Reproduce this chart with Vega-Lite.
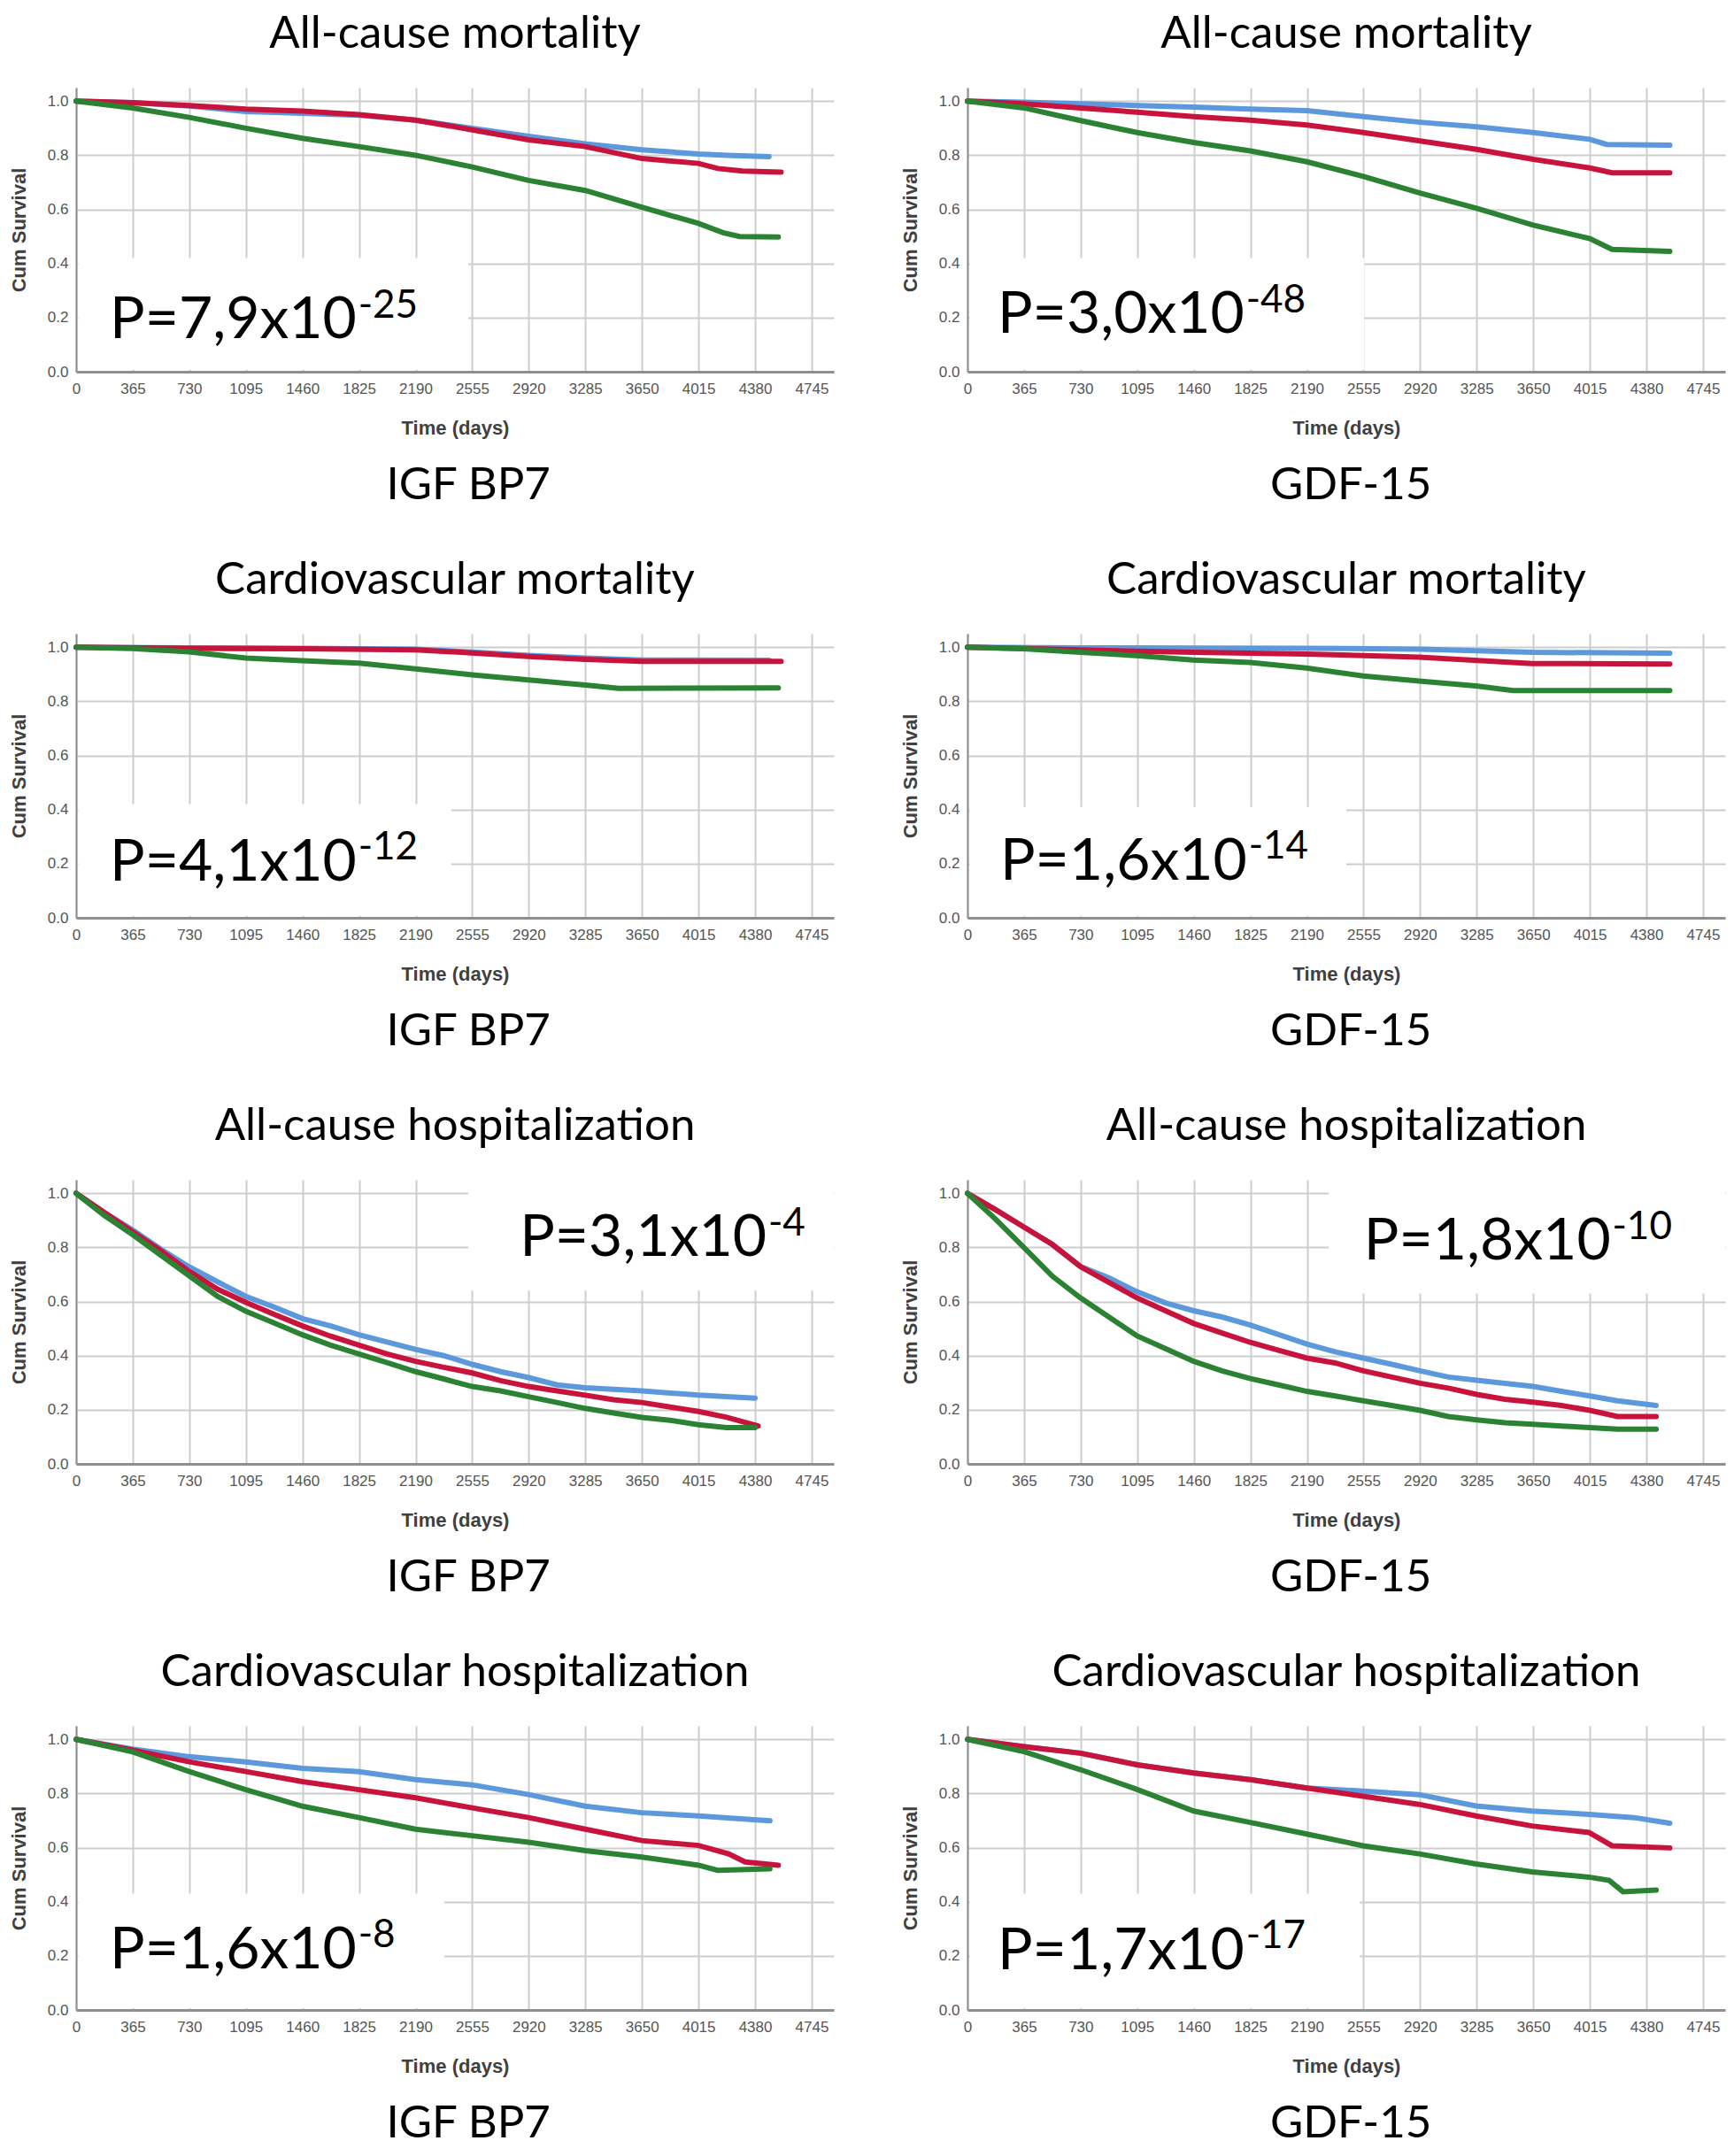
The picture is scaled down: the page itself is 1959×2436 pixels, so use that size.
{
"$schema": "https://vega.github.io/schema/vega-lite/v6.json",
"background": "white",
"padding": {"left": 10, "top": 13, "right": 5, "bottom": 2},
"config": {
 "view": {"stroke": null},
 "title": {"font": "Lato", "fontSize": 51, "fontWeight": "normal", "color": "#000000", "offset": 34, "anchor": "middle"},
 "axis": {"grid": true, "gridColor": "#cdcdcd", "gridWidth": 2, "domainColor": "#8f8f8f", "domainWidth": 2, "ticks": false, "labelFont": "Liberation Sans", "labelFontSize": 17, "labelColor": "#555555", "labelFlush": false, "labelOverlap": false, "labelBound": false, "titleFont": "Liberation Sans", "titleFontSize": 22, "titleFontWeight": "bold", "titleColor": "#404040"},
 "axisX": {"labelPadding": 11, "titlePadding": 26, "domainWidth": 3},
 "axisY": {"labelPadding": 9, "titlePadding": 20},
 "text": {"font": "Lato", "color": "#000000", "align": "left", "baseline": "alphabetic"},
 "line": {"strokeWidth": 6, "strokeCap": "round"}
},
"datasets": {
"km": [
{"p":"a1","g":"blue","t":0,"s":1},{"p":"a1","g":"blue","t":365,"s":0.994},{"p":"a1","g":"blue","t":730,"s":0.982},{"p":"a1","g":"blue","t":1095,"s":0.962},{"p":"a1","g":"blue","t":1460,"s":0.955},{"p":"a1","g":"blue","t":1825,"s":0.948},{"p":"a1","g":"blue","t":2190,"s":0.93},{"p":"a1","g":"blue","t":2555,"s":0.9},{"p":"a1","g":"blue","t":2920,"s":0.87},{"p":"a1","g":"blue","t":3285,"s":0.842},{"p":"a1","g":"blue","t":3650,"s":0.82},{"p":"a1","g":"blue","t":4015,"s":0.805},{"p":"a1","g":"blue","t":4200,"s":0.8},{"p":"a1","g":"blue","t":4470,"s":0.795},
{"p":"a1","g":"red","t":0,"s":1},{"p":"a1","g":"red","t":365,"s":0.994},{"p":"a1","g":"red","t":730,"s":0.984},{"p":"a1","g":"red","t":1095,"s":0.971},{"p":"a1","g":"red","t":1460,"s":0.963},{"p":"a1","g":"red","t":1825,"s":0.95},{"p":"a1","g":"red","t":2190,"s":0.93},{"p":"a1","g":"red","t":2555,"s":0.894},{"p":"a1","g":"red","t":2920,"s":0.857},{"p":"a1","g":"red","t":3285,"s":0.832},{"p":"a1","g":"red","t":3650,"s":0.788},{"p":"a1","g":"red","t":4015,"s":0.77},{"p":"a1","g":"red","t":4140,"s":0.751},{"p":"a1","g":"red","t":4300,"s":0.742},{"p":"a1","g":"red","t":4548,"s":0.738},
{"p":"a1","g":"green","t":0,"s":1},{"p":"a1","g":"green","t":365,"s":0.975},{"p":"a1","g":"green","t":730,"s":0.94},{"p":"a1","g":"green","t":1095,"s":0.9},{"p":"a1","g":"green","t":1460,"s":0.863},{"p":"a1","g":"green","t":1825,"s":0.832},{"p":"a1","g":"green","t":2190,"s":0.8},{"p":"a1","g":"green","t":2555,"s":0.757},{"p":"a1","g":"green","t":2920,"s":0.707},{"p":"a1","g":"green","t":3285,"s":0.67},{"p":"a1","g":"green","t":3650,"s":0.608},{"p":"a1","g":"green","t":4015,"s":0.548},{"p":"a1","g":"green","t":4173,"s":0.514},{"p":"a1","g":"green","t":4280,"s":0.5},{"p":"a1","g":"green","t":4530,"s":0.498},

{"p":"a2","g":"blue","t":0,"s":1},{"p":"a2","g":"blue","t":365,"s":0.996},{"p":"a2","g":"blue","t":730,"s":0.99},{"p":"a2","g":"blue","t":1095,"s":0.984},{"p":"a2","g":"blue","t":1460,"s":0.978},{"p":"a2","g":"blue","t":1825,"s":0.971},{"p":"a2","g":"blue","t":2190,"s":0.965},{"p":"a2","g":"blue","t":2555,"s":0.943},{"p":"a2","g":"blue","t":2920,"s":0.922},{"p":"a2","g":"blue","t":3285,"s":0.905},{"p":"a2","g":"blue","t":3650,"s":0.884},{"p":"a2","g":"blue","t":4015,"s":0.859},{"p":"a2","g":"blue","t":4123,"s":0.84},{"p":"a2","g":"blue","t":4531,"s":0.837},
{"p":"a2","g":"red","t":0,"s":1},{"p":"a2","g":"red","t":365,"s":0.99},{"p":"a2","g":"red","t":730,"s":0.975},{"p":"a2","g":"red","t":1095,"s":0.959},{"p":"a2","g":"red","t":1460,"s":0.943},{"p":"a2","g":"red","t":1825,"s":0.93},{"p":"a2","g":"red","t":2190,"s":0.912},{"p":"a2","g":"red","t":2555,"s":0.884},{"p":"a2","g":"red","t":2920,"s":0.853},{"p":"a2","g":"red","t":3285,"s":0.822},{"p":"a2","g":"red","t":3650,"s":0.785},{"p":"a2","g":"red","t":4015,"s":0.753},{"p":"a2","g":"red","t":4158,"s":0.735},{"p":"a2","g":"red","t":4531,"s":0.735},
{"p":"a2","g":"green","t":0,"s":1},{"p":"a2","g":"green","t":365,"s":0.975},{"p":"a2","g":"green","t":730,"s":0.928},{"p":"a2","g":"green","t":1095,"s":0.884},{"p":"a2","g":"green","t":1460,"s":0.847},{"p":"a2","g":"green","t":1825,"s":0.816},{"p":"a2","g":"green","t":2190,"s":0.776},{"p":"a2","g":"green","t":2555,"s":0.722},{"p":"a2","g":"green","t":2920,"s":0.66},{"p":"a2","g":"green","t":3285,"s":0.604},{"p":"a2","g":"green","t":3650,"s":0.542},{"p":"a2","g":"green","t":4015,"s":0.492},{"p":"a2","g":"green","t":4158,"s":0.452},{"p":"a2","g":"green","t":4531,"s":0.445},

{"p":"b1","g":"blue","t":0,"s":1},{"p":"b1","g":"blue","t":730,"s":0.998},{"p":"b1","g":"blue","t":1460,"s":0.996},{"p":"b1","g":"blue","t":2190,"s":0.993},{"p":"b1","g":"blue","t":2555,"s":0.982},{"p":"b1","g":"blue","t":2920,"s":0.97},{"p":"b1","g":"blue","t":3285,"s":0.96},{"p":"b1","g":"blue","t":3650,"s":0.953},{"p":"b1","g":"blue","t":4470,"s":0.952},
{"p":"b1","g":"red","t":0,"s":1},{"p":"b1","g":"red","t":730,"s":0.996},{"p":"b1","g":"red","t":1460,"s":0.994},{"p":"b1","g":"red","t":2190,"s":0.99},{"p":"b1","g":"red","t":2555,"s":0.979},{"p":"b1","g":"red","t":2920,"s":0.966},{"p":"b1","g":"red","t":3285,"s":0.955},{"p":"b1","g":"red","t":3650,"s":0.948},{"p":"b1","g":"red","t":4548,"s":0.948},
{"p":"b1","g":"green","t":0,"s":1},{"p":"b1","g":"green","t":365,"s":0.995},{"p":"b1","g":"green","t":730,"s":0.983},{"p":"b1","g":"green","t":1095,"s":0.96},{"p":"b1","g":"green","t":1460,"s":0.95},{"p":"b1","g":"green","t":1825,"s":0.941},{"p":"b1","g":"green","t":2190,"s":0.92},{"p":"b1","g":"green","t":2555,"s":0.898},{"p":"b1","g":"green","t":2920,"s":0.879},{"p":"b1","g":"green","t":3285,"s":0.86},{"p":"b1","g":"green","t":3500,"s":0.848},{"p":"b1","g":"green","t":4530,"s":0.85},

{"p":"b2","g":"blue","t":0,"s":1},{"p":"b2","g":"blue","t":730,"s":0.998},{"p":"b2","g":"blue","t":1460,"s":0.997},{"p":"b2","g":"blue","t":2190,"s":0.996},{"p":"b2","g":"blue","t":2920,"s":0.993},{"p":"b2","g":"blue","t":3643,"s":0.981},{"p":"b2","g":"blue","t":4531,"s":0.978},
{"p":"b2","g":"red","t":0,"s":1},{"p":"b2","g":"red","t":730,"s":0.99},{"p":"b2","g":"red","t":1460,"s":0.981},{"p":"b2","g":"red","t":2186,"s":0.975},{"p":"b2","g":"red","t":2914,"s":0.963},{"p":"b2","g":"red","t":3643,"s":0.94},{"p":"b2","g":"red","t":4531,"s":0.938},
{"p":"b2","g":"green","t":0,"s":1},{"p":"b2","g":"green","t":363,"s":0.994},{"p":"b2","g":"green","t":729,"s":0.981},{"p":"b2","g":"green","t":1091,"s":0.969},{"p":"b2","g":"green","t":1457,"s":0.953},{"p":"b2","g":"green","t":1823,"s":0.944},{"p":"b2","g":"green","t":2186,"s":0.923},{"p":"b2","g":"green","t":2552,"s":0.894},{"p":"b2","g":"green","t":2914,"s":0.875},{"p":"b2","g":"green","t":3280,"s":0.857},{"p":"b2","g":"green","t":3520,"s":0.84},{"p":"b2","g":"green","t":4531,"s":0.84},

{"p":"c1","g":"blue","t":0,"s":1},{"p":"c1","g":"blue","t":182,"s":0.929},{"p":"c1","g":"blue","t":365,"s":0.864},{"p":"c1","g":"blue","t":547,"s":0.793},{"p":"c1","g":"blue","t":730,"s":0.728},{"p":"c1","g":"blue","t":912,"s":0.673},{"p":"c1","g":"blue","t":1095,"s":0.619},{"p":"c1","g":"blue","t":1277,"s":0.58},{"p":"c1","g":"blue","t":1460,"s":0.537},{"p":"c1","g":"blue","t":1642,"s":0.51},{"p":"c1","g":"blue","t":1825,"s":0.477},{"p":"c1","g":"blue","t":2007,"s":0.45},{"p":"c1","g":"blue","t":2190,"s":0.423},{"p":"c1","g":"blue","t":2372,"s":0.4},{"p":"c1","g":"blue","t":2555,"s":0.368},{"p":"c1","g":"blue","t":2737,"s":0.341},{"p":"c1","g":"blue","t":2920,"s":0.319},{"p":"c1","g":"blue","t":3102,"s":0.292},{"p":"c1","g":"blue","t":3285,"s":0.281},{"p":"c1","g":"blue","t":3650,"s":0.27},{"p":"c1","g":"blue","t":4015,"s":0.254},{"p":"c1","g":"blue","t":4380,"s":0.243},
{"p":"c1","g":"red","t":0,"s":1},{"p":"c1","g":"red","t":182,"s":0.929},{"p":"c1","g":"red","t":365,"s":0.858},{"p":"c1","g":"red","t":547,"s":0.788},{"p":"c1","g":"red","t":730,"s":0.711},{"p":"c1","g":"red","t":912,"s":0.646},{"p":"c1","g":"red","t":1095,"s":0.597},{"p":"c1","g":"red","t":1277,"s":0.553},{"p":"c1","g":"red","t":1460,"s":0.51},{"p":"c1","g":"red","t":1642,"s":0.472},{"p":"c1","g":"red","t":1825,"s":0.439},{"p":"c1","g":"red","t":2007,"s":0.406},{"p":"c1","g":"red","t":2190,"s":0.379},{"p":"c1","g":"red","t":2372,"s":0.357},{"p":"c1","g":"red","t":2555,"s":0.336},{"p":"c1","g":"red","t":2737,"s":0.308},{"p":"c1","g":"red","t":2920,"s":0.286},{"p":"c1","g":"red","t":3102,"s":0.27},{"p":"c1","g":"red","t":3285,"s":0.254},{"p":"c1","g":"red","t":3467,"s":0.237},{"p":"c1","g":"red","t":3650,"s":0.227},{"p":"c1","g":"red","t":3832,"s":0.21},{"p":"c1","g":"red","t":4015,"s":0.194},{"p":"c1","g":"red","t":4197,"s":0.172},{"p":"c1","g":"red","t":4400,"s":0.14},
{"p":"c1","g":"green","t":0,"s":1},{"p":"c1","g":"green","t":182,"s":0.918},{"p":"c1","g":"green","t":365,"s":0.847},{"p":"c1","g":"green","t":547,"s":0.771},{"p":"c1","g":"green","t":730,"s":0.695},{"p":"c1","g":"green","t":912,"s":0.619},{"p":"c1","g":"green","t":1095,"s":0.564},{"p":"c1","g":"green","t":1277,"s":0.521},{"p":"c1","g":"green","t":1460,"s":0.477},{"p":"c1","g":"green","t":1642,"s":0.439},{"p":"c1","g":"green","t":1825,"s":0.406},{"p":"c1","g":"green","t":2007,"s":0.374},{"p":"c1","g":"green","t":2190,"s":0.341},{"p":"c1","g":"green","t":2372,"s":0.314},{"p":"c1","g":"green","t":2555,"s":0.286},{"p":"c1","g":"green","t":2737,"s":0.27},{"p":"c1","g":"green","t":2920,"s":0.248},{"p":"c1","g":"green","t":3102,"s":0.227},{"p":"c1","g":"green","t":3285,"s":0.205},{"p":"c1","g":"green","t":3467,"s":0.188},{"p":"c1","g":"green","t":3650,"s":0.172},{"p":"c1","g":"green","t":3832,"s":0.161},{"p":"c1","g":"green","t":4015,"s":0.145},{"p":"c1","g":"green","t":4197,"s":0.134},{"p":"c1","g":"green","t":4380,"s":0.134},

{"p":"c2","g":"blue","t":0,"s":1},{"p":"c2","g":"blue","t":182,"s":0.939},{"p":"c2","g":"blue","t":365,"s":0.875},{"p":"c2","g":"blue","t":547,"s":0.811},{"p":"c2","g":"blue","t":730,"s":0.729},{"p":"c2","g":"blue","t":912,"s":0.688},{"p":"c2","g":"blue","t":1095,"s":0.636},{"p":"c2","g":"blue","t":1277,"s":0.595},{"p":"c2","g":"blue","t":1460,"s":0.566},{"p":"c2","g":"blue","t":1642,"s":0.543},{"p":"c2","g":"blue","t":1825,"s":0.513},{"p":"c2","g":"blue","t":2007,"s":0.478},{"p":"c2","g":"blue","t":2190,"s":0.443},{"p":"c2","g":"blue","t":2372,"s":0.414},{"p":"c2","g":"blue","t":2555,"s":0.391},{"p":"c2","g":"blue","t":2737,"s":0.368},{"p":"c2","g":"blue","t":2920,"s":0.344},{"p":"c2","g":"blue","t":3102,"s":0.321},{"p":"c2","g":"blue","t":3285,"s":0.309},{"p":"c2","g":"blue","t":3467,"s":0.298},{"p":"c2","g":"blue","t":3650,"s":0.286},{"p":"c2","g":"blue","t":3832,"s":0.268},{"p":"c2","g":"blue","t":4015,"s":0.251},{"p":"c2","g":"blue","t":4194,"s":0.233},{"p":"c2","g":"blue","t":4443,"s":0.216},
{"p":"c2","g":"red","t":0,"s":1},{"p":"c2","g":"red","t":182,"s":0.939},{"p":"c2","g":"red","t":365,"s":0.875},{"p":"c2","g":"red","t":547,"s":0.811},{"p":"c2","g":"red","t":730,"s":0.729},{"p":"c2","g":"red","t":912,"s":0.671},{"p":"c2","g":"red","t":1095,"s":0.613},{"p":"c2","g":"red","t":1277,"s":0.566},{"p":"c2","g":"red","t":1460,"s":0.519},{"p":"c2","g":"red","t":1642,"s":0.484},{"p":"c2","g":"red","t":1825,"s":0.449},{"p":"c2","g":"red","t":2007,"s":0.42},{"p":"c2","g":"red","t":2190,"s":0.391},{"p":"c2","g":"red","t":2372,"s":0.373},{"p":"c2","g":"red","t":2555,"s":0.344},{"p":"c2","g":"red","t":2737,"s":0.321},{"p":"c2","g":"red","t":2920,"s":0.298},{"p":"c2","g":"red","t":3102,"s":0.28},{"p":"c2","g":"red","t":3285,"s":0.257},{"p":"c2","g":"red","t":3467,"s":0.239},{"p":"c2","g":"red","t":3650,"s":0.228},{"p":"c2","g":"red","t":3832,"s":0.216},{"p":"c2","g":"red","t":4015,"s":0.198},{"p":"c2","g":"red","t":4194,"s":0.175},{"p":"c2","g":"red","t":4443,"s":0.175},
{"p":"c2","g":"green","t":0,"s":1},{"p":"c2","g":"green","t":182,"s":0.904},{"p":"c2","g":"green","t":365,"s":0.799},{"p":"c2","g":"green","t":547,"s":0.694},{"p":"c2","g":"green","t":730,"s":0.613},{"p":"c2","g":"green","t":912,"s":0.543},{"p":"c2","g":"green","t":1095,"s":0.473},{"p":"c2","g":"green","t":1277,"s":0.426},{"p":"c2","g":"green","t":1460,"s":0.379},{"p":"c2","g":"green","t":1642,"s":0.344},{"p":"c2","g":"green","t":1825,"s":0.315},{"p":"c2","g":"green","t":2007,"s":0.292},{"p":"c2","g":"green","t":2190,"s":0.268},{"p":"c2","g":"green","t":2372,"s":0.251},{"p":"c2","g":"green","t":2555,"s":0.233},{"p":"c2","g":"green","t":2737,"s":0.216},{"p":"c2","g":"green","t":2920,"s":0.198},{"p":"c2","g":"green","t":3102,"s":0.175},{"p":"c2","g":"green","t":3285,"s":0.163},{"p":"c2","g":"green","t":3467,"s":0.152},{"p":"c2","g":"green","t":3650,"s":0.146},{"p":"c2","g":"green","t":3832,"s":0.14},{"p":"c2","g":"green","t":4015,"s":0.134},{"p":"c2","g":"green","t":4194,"s":0.128},{"p":"c2","g":"green","t":4443,"s":0.128},

{"p":"d1","g":"blue","t":0,"s":1},{"p":"d1","g":"blue","t":365,"s":0.964},{"p":"d1","g":"blue","t":730,"s":0.936},{"p":"d1","g":"blue","t":1095,"s":0.917},{"p":"d1","g":"blue","t":1460,"s":0.893},{"p":"d1","g":"blue","t":1825,"s":0.881},{"p":"d1","g":"blue","t":2190,"s":0.851},{"p":"d1","g":"blue","t":2555,"s":0.832},{"p":"d1","g":"blue","t":2920,"s":0.796},{"p":"d1","g":"blue","t":3285,"s":0.753},{"p":"d1","g":"blue","t":3650,"s":0.729},{"p":"d1","g":"blue","t":4015,"s":0.717},{"p":"d1","g":"blue","t":4476,"s":0.699},
{"p":"d1","g":"red","t":0,"s":1},{"p":"d1","g":"red","t":365,"s":0.96},{"p":"d1","g":"red","t":730,"s":0.917},{"p":"d1","g":"red","t":1095,"s":0.881},{"p":"d1","g":"red","t":1460,"s":0.844},{"p":"d1","g":"red","t":1825,"s":0.814},{"p":"d1","g":"red","t":2190,"s":0.784},{"p":"d1","g":"red","t":2555,"s":0.747},{"p":"d1","g":"red","t":2920,"s":0.711},{"p":"d1","g":"red","t":3285,"s":0.668},{"p":"d1","g":"red","t":3650,"s":0.626},{"p":"d1","g":"red","t":4015,"s":0.608},{"p":"d1","g":"red","t":4209,"s":0.577},{"p":"d1","g":"red","t":4316,"s":0.547},{"p":"d1","g":"red","t":4530,"s":0.535},
{"p":"d1","g":"green","t":0,"s":1},{"p":"d1","g":"green","t":365,"s":0.954},{"p":"d1","g":"green","t":730,"s":0.881},{"p":"d1","g":"green","t":1095,"s":0.814},{"p":"d1","g":"green","t":1460,"s":0.753},{"p":"d1","g":"green","t":1825,"s":0.711},{"p":"d1","g":"green","t":2190,"s":0.668},{"p":"d1","g":"green","t":2555,"s":0.644},{"p":"d1","g":"green","t":2920,"s":0.62},{"p":"d1","g":"green","t":3285,"s":0.589},{"p":"d1","g":"green","t":3650,"s":0.565},{"p":"d1","g":"green","t":4015,"s":0.535},{"p":"d1","g":"green","t":4138,"s":0.516},{"p":"d1","g":"green","t":4476,"s":0.522},

{"p":"d2","g":"blue","t":0,"s":1},{"p":"d2","g":"blue","t":365,"s":0.973},{"p":"d2","g":"blue","t":730,"s":0.949},{"p":"d2","g":"blue","t":1095,"s":0.906},{"p":"d2","g":"blue","t":1460,"s":0.876},{"p":"d2","g":"blue","t":1825,"s":0.851},{"p":"d2","g":"blue","t":2190,"s":0.82},{"p":"d2","g":"blue","t":2552,"s":0.809},{"p":"d2","g":"blue","t":2914,"s":0.796},{"p":"d2","g":"blue","t":3280,"s":0.754},{"p":"d2","g":"blue","t":3643,"s":0.735},{"p":"d2","g":"blue","t":4009,"s":0.723},{"p":"d2","g":"blue","t":4300,"s":0.711},{"p":"d2","g":"blue","t":4531,"s":0.69},
{"p":"d2","g":"red","t":0,"s":1},{"p":"d2","g":"red","t":365,"s":0.973},{"p":"d2","g":"red","t":730,"s":0.949},{"p":"d2","g":"red","t":1095,"s":0.906},{"p":"d2","g":"red","t":1460,"s":0.876},{"p":"d2","g":"red","t":1825,"s":0.851},{"p":"d2","g":"red","t":2190,"s":0.82},{"p":"d2","g":"red","t":2552,"s":0.79},{"p":"d2","g":"red","t":2914,"s":0.76},{"p":"d2","g":"red","t":3280,"s":0.717},{"p":"d2","g":"red","t":3643,"s":0.68},{"p":"d2","g":"red","t":4009,"s":0.656},{"p":"d2","g":"red","t":4158,"s":0.607},{"p":"d2","g":"red","t":4531,"s":0.599},
{"p":"d2","g":"green","t":0,"s":1},{"p":"d2","g":"green","t":365,"s":0.955},{"p":"d2","g":"green","t":730,"s":0.888},{"p":"d2","g":"green","t":1095,"s":0.815},{"p":"d2","g":"green","t":1460,"s":0.735},{"p":"d2","g":"green","t":1825,"s":0.693},{"p":"d2","g":"green","t":2190,"s":0.65},{"p":"d2","g":"green","t":2552,"s":0.607},{"p":"d2","g":"green","t":2914,"s":0.577},{"p":"d2","g":"green","t":3280,"s":0.54},{"p":"d2","g":"green","t":3643,"s":0.51},{"p":"d2","g":"green","t":4009,"s":0.491},{"p":"d2","g":"green","t":4140,"s":0.479},{"p":"d2","g":"green","t":4229,"s":0.437},{"p":"d2","g":"green","t":4443,"s":0.443}
]
},
"spacing": 56,
"vconcat": [
{"hconcat": [
 {"title": {"text": "IGF BP7", "orient": "bottom", "offset": 30, "dx": 53}, "vconcat": [{"title": "All-cause mortality", "width": 856, "height": 321, "layer": [
  {"data": {"values": [{}]}, "mark": {"type": "rect", "fill": "white"}, "encoding": {"x": {"datum": 14, "type": "quantitative", "title": "Time (days)"}, "x2": {"datum": 2530}, "y": {"datum": 0.007, "type": "quantitative", "title": "Cum Survival"}, "y2": {"datum": 0.42}}},
  {"data": {"name": "km"}, "transform": [{"filter": "datum.p == 'a1'"}], "mark": {"type": "line"}, "encoding": {"x": {"field": "t", "type": "quantitative", "scale": {"domain": [0, 4888], "nice": false}, "axis": {"title": "Time (days)", "values": [0,365,730,1095,1460,1825,2190,2555,2920,3285,3650,4015,4380,4745], "format": "d"}}, "y": {"field": "s", "type": "quantitative", "scale": {"domain": [0, 1.05], "nice": false}, "axis": {"title": "Cum Survival", "values": [0,0.2,0.4,0.6,0.8,1], "format": ".1f"}}, "color": {"field": "g", "type": "nominal", "sort": ["blue","red","green"], "scale": {"domain": ["blue","red","green"], "range": ["#5b98dc","#c8143c","#2a8232"]}, "legend": null}}},
  {"data": {"values": [{}]}, "mark": {"type": "text", "fontSize": 66}, "encoding": {"x": {"datum": 217, "type": "quantitative", "title": "Time (days)"}, "y": {"datum": 0.124, "type": "quantitative", "title": "Cum Survival"}, "text": {"value": "P=7,9x10"}}},
  {"data": {"values": [{}]}, "mark": {"type": "text", "fontSize": 44}, "encoding": {"x": {"datum": 1820, "type": "quantitative", "title": "Time (days)"}, "y": {"datum": 0.2, "type": "quantitative", "title": "Cum Survival"}, "text": {"value": "-25"}}}
 ]}]},
 {"title": {"text": "GDF-15", "orient": "bottom", "offset": 30, "dx": 43}, "vconcat": [{"title": "All-cause mortality", "width": 856, "height": 321, "layer": [
  {"data": {"values": [{}]}, "mark": {"type": "rect", "fill": "white"}, "encoding": {"x": {"datum": 14, "type": "quantitative", "title": "Time (days)"}, "x2": {"datum": 2560}, "y": {"datum": 0.007, "type": "quantitative", "title": "Cum Survival"}, "y2": {"datum": 0.42}}},
  {"data": {"name": "km"}, "transform": [{"filter": "datum.p == 'a2'"}], "mark": {"type": "line"}, "encoding": {"x": {"field": "t", "type": "quantitative", "scale": {"domain": [0, 4888], "nice": false}, "axis": {"title": "Time (days)", "values": [0,365,730,1095,1460,1825,2190,2555,2920,3285,3650,4015,4380,4745], "format": "d"}}, "y": {"field": "s", "type": "quantitative", "scale": {"domain": [0, 1.05], "nice": false}, "axis": {"title": "Cum Survival", "values": [0,0.2,0.4,0.6,0.8,1], "format": ".1f"}}, "color": {"field": "g", "type": "nominal", "sort": ["blue","red","green"], "scale": {"domain": ["blue","red","green"], "range": ["#5b98dc","#c8143c","#2a8232"]}, "legend": null}}},
  {"data": {"values": [{}]}, "mark": {"type": "text", "fontSize": 66}, "encoding": {"x": {"datum": 194, "type": "quantitative", "title": "Time (days)"}, "y": {"datum": 0.144, "type": "quantitative", "title": "Cum Survival"}, "text": {"value": "P=3,0x10"}}},
  {"data": {"values": [{}]}, "mark": {"type": "text", "fontSize": 44}, "encoding": {"x": {"datum": 1797, "type": "quantitative", "title": "Time (days)"}, "y": {"datum": 0.22, "type": "quantitative", "title": "Cum Survival"}, "text": {"value": "-48"}}}
 ]}]}
], "spacing": 75},
{"hconcat": [
 {"title": {"text": "IGF BP7", "orient": "bottom", "offset": 30, "dx": 53}, "vconcat": [{"title": "Cardiovascular mortality", "width": 856, "height": 321, "layer": [
  {"data": {"values": [{}]}, "mark": {"type": "rect", "fill": "white"}, "encoding": {"x": {"datum": 14, "type": "quantitative", "title": "Time (days)"}, "x2": {"datum": 2420}, "y": {"datum": 0.007, "type": "quantitative", "title": "Cum Survival"}, "y2": {"datum": 0.42}}},
  {"data": {"name": "km"}, "transform": [{"filter": "datum.p == 'b1'"}], "mark": {"type": "line"}, "encoding": {"x": {"field": "t", "type": "quantitative", "scale": {"domain": [0, 4888], "nice": false}, "axis": {"title": "Time (days)", "values": [0,365,730,1095,1460,1825,2190,2555,2920,3285,3650,4015,4380,4745], "format": "d"}}, "y": {"field": "s", "type": "quantitative", "scale": {"domain": [0, 1.05], "nice": false}, "axis": {"title": "Cum Survival", "values": [0,0.2,0.4,0.6,0.8,1], "format": ".1f"}}, "color": {"field": "g", "type": "nominal", "sort": ["blue","red","green"], "scale": {"domain": ["blue","red","green"], "range": ["#5b98dc","#c8143c","#2a8232"]}, "legend": null}}},
  {"data": {"values": [{}]}, "mark": {"type": "text", "fontSize": 66}, "encoding": {"x": {"datum": 217, "type": "quantitative", "title": "Time (days)"}, "y": {"datum": 0.137, "type": "quantitative", "title": "Cum Survival"}, "text": {"value": "P=4,1x10"}}},
  {"data": {"values": [{}]}, "mark": {"type": "text", "fontSize": 44}, "encoding": {"x": {"datum": 1820, "type": "quantitative", "title": "Time (days)"}, "y": {"datum": 0.215, "type": "quantitative", "title": "Cum Survival"}, "text": {"value": "-12"}}}
 ]}]},
 {"title": {"text": "GDF-15", "orient": "bottom", "offset": 30, "dx": 43}, "vconcat": [{"title": "Cardiovascular mortality", "width": 856, "height": 321, "layer": [
  {"data": {"values": [{}]}, "mark": {"type": "rect", "fill": "white"}, "encoding": {"x": {"datum": 14, "type": "quantitative", "title": "Time (days)"}, "x2": {"datum": 2444}, "y": {"datum": 0.007, "type": "quantitative", "title": "Cum Survival"}, "y2": {"datum": 0.41}}},
  {"data": {"name": "km"}, "transform": [{"filter": "datum.p == 'b2'"}], "mark": {"type": "line"}, "encoding": {"x": {"field": "t", "type": "quantitative", "scale": {"domain": [0, 4888], "nice": false}, "axis": {"title": "Time (days)", "values": [0,365,730,1095,1460,1825,2190,2555,2920,3285,3650,4015,4380,4745], "format": "d"}}, "y": {"field": "s", "type": "quantitative", "scale": {"domain": [0, 1.05], "nice": false}, "axis": {"title": "Cum Survival", "values": [0,0.2,0.4,0.6,0.8,1], "format": ".1f"}}, "color": {"field": "g", "type": "nominal", "sort": ["blue","red","green"], "scale": {"domain": ["blue","red","green"], "range": ["#5b98dc","#c8143c","#2a8232"]}, "legend": null}}},
  {"data": {"values": [{}]}, "mark": {"type": "text", "fontSize": 66}, "encoding": {"x": {"datum": 211, "type": "quantitative", "title": "Time (days)"}, "y": {"datum": 0.14, "type": "quantitative", "title": "Cum Survival"}, "text": {"value": "P=1,6x10"}}},
  {"data": {"values": [{}]}, "mark": {"type": "text", "fontSize": 44}, "encoding": {"x": {"datum": 1814, "type": "quantitative", "title": "Time (days)"}, "y": {"datum": 0.218, "type": "quantitative", "title": "Cum Survival"}, "text": {"value": "-14"}}}
 ]}]}
], "spacing": 75},
{"hconcat": [
 {"title": {"text": "IGF BP7", "orient": "bottom", "offset": 30, "dx": 53}, "vconcat": [{"title": "All-cause hospitalization", "width": 856, "height": 321, "layer": [
  {"data": {"values": [{}]}, "mark": {"type": "rect", "fill": "white"}, "encoding": {"x": {"datum": 2530, "type": "quantitative", "title": "Time (days)"}, "x2": {"datum": 4888}, "y": {"datum": 0.64, "type": "quantitative", "title": "Cum Survival"}, "y2": {"datum": 1.05}}},
  {"data": {"name": "km"}, "transform": [{"filter": "datum.p == 'c1'"}], "mark": {"type": "line"}, "encoding": {"x": {"field": "t", "type": "quantitative", "scale": {"domain": [0, 4888], "nice": false}, "axis": {"title": "Time (days)", "values": [0,365,730,1095,1460,1825,2190,2555,2920,3285,3650,4015,4380,4745], "format": "d"}}, "y": {"field": "s", "type": "quantitative", "scale": {"domain": [0, 1.05], "nice": false}, "axis": {"title": "Cum Survival", "values": [0,0.2,0.4,0.6,0.8,1], "format": ".1f"}}, "color": {"field": "g", "type": "nominal", "sort": ["blue","red","green"], "scale": {"domain": ["blue","red","green"], "range": ["#5b98dc","#c8143c","#2a8232"]}, "legend": null}}},
  {"data": {"values": [{}]}, "mark": {"type": "text", "fontSize": 66}, "encoding": {"x": {"datum": 2862, "type": "quantitative", "title": "Time (days)"}, "y": {"datum": 0.769, "type": "quantitative", "title": "Cum Survival"}, "text": {"value": "P=3,1x10"}}},
  {"data": {"values": [{}]}, "mark": {"type": "text", "fontSize": 44}, "encoding": {"x": {"datum": 4465, "type": "quantitative", "title": "Time (days)"}, "y": {"datum": 0.845, "type": "quantitative", "title": "Cum Survival"}, "text": {"value": "-4"}}}
 ]}]},
 {"title": {"text": "GDF-15", "orient": "bottom", "offset": 30, "dx": 43}, "vconcat": [{"title": "All-cause hospitalization", "width": 856, "height": 321, "layer": [
  {"data": {"values": [{}]}, "mark": {"type": "rect", "fill": "white"}, "encoding": {"x": {"datum": 2330, "type": "quantitative", "title": "Time (days)"}, "x2": {"datum": 4888}, "y": {"datum": 0.63, "type": "quantitative", "title": "Cum Survival"}, "y2": {"datum": 1.05}}},
  {"data": {"name": "km"}, "transform": [{"filter": "datum.p == 'c2'"}], "mark": {"type": "line"}, "encoding": {"x": {"field": "t", "type": "quantitative", "scale": {"domain": [0, 4888], "nice": false}, "axis": {"title": "Time (days)", "values": [0,365,730,1095,1460,1825,2190,2555,2920,3285,3650,4015,4380,4745], "format": "d"}}, "y": {"field": "s", "type": "quantitative", "scale": {"domain": [0, 1.05], "nice": false}, "axis": {"title": "Cum Survival", "values": [0,0.2,0.4,0.6,0.8,1], "format": ".1f"}}, "color": {"field": "g", "type": "nominal", "sort": ["blue","red","green"], "scale": {"domain": ["blue","red","green"], "range": ["#5b98dc","#c8143c","#2a8232"]}, "legend": null}}},
  {"data": {"values": [{}]}, "mark": {"type": "text", "fontSize": 66}, "encoding": {"x": {"datum": 2557, "type": "quantitative", "title": "Time (days)"}, "y": {"datum": 0.755, "type": "quantitative", "title": "Cum Survival"}, "text": {"value": "P=1,8x10"}}},
  {"data": {"values": [{}]}, "mark": {"type": "text", "fontSize": 44}, "encoding": {"x": {"datum": 4160, "type": "quantitative", "title": "Time (days)"}, "y": {"datum": 0.832, "type": "quantitative", "title": "Cum Survival"}, "text": {"value": "-10"}}}
 ]}]}
], "spacing": 75},
{"hconcat": [
 {"title": {"text": "IGF BP7", "orient": "bottom", "offset": 30, "dx": 53}, "vconcat": [{"title": "Cardiovascular hospitalization", "width": 856, "height": 321, "layer": [
  {"data": {"values": [{}]}, "mark": {"type": "rect", "fill": "white"}, "encoding": {"x": {"datum": 14, "type": "quantitative", "title": "Time (days)"}, "x2": {"datum": 2375}, "y": {"datum": 0.007, "type": "quantitative", "title": "Cum Survival"}, "y2": {"datum": 0.43}}},
  {"data": {"name": "km"}, "transform": [{"filter": "datum.p == 'd1'"}], "mark": {"type": "line"}, "encoding": {"x": {"field": "t", "type": "quantitative", "scale": {"domain": [0, 4888], "nice": false}, "axis": {"title": "Time (days)", "values": [0,365,730,1095,1460,1825,2190,2555,2920,3285,3650,4015,4380,4745], "format": "d"}}, "y": {"field": "s", "type": "quantitative", "scale": {"domain": [0, 1.05], "nice": false}, "axis": {"title": "Cum Survival", "values": [0,0.2,0.4,0.6,0.8,1], "format": ".1f"}}, "color": {"field": "g", "type": "nominal", "sort": ["blue","red","green"], "scale": {"domain": ["blue","red","green"], "range": ["#5b98dc","#c8143c","#2a8232"]}, "legend": null}}},
  {"data": {"values": [{}]}, "mark": {"type": "text", "fontSize": 66}, "encoding": {"x": {"datum": 217, "type": "quantitative", "title": "Time (days)"}, "y": {"datum": 0.154, "type": "quantitative", "title": "Cum Survival"}, "text": {"value": "P=1,6x10"}}},
  {"data": {"values": [{}]}, "mark": {"type": "text", "fontSize": 44}, "encoding": {"x": {"datum": 1820, "type": "quantitative", "title": "Time (days)"}, "y": {"datum": 0.232, "type": "quantitative", "title": "Cum Survival"}, "text": {"value": "-8"}}}
 ]}]},
 {"title": {"text": "GDF-15", "orient": "bottom", "offset": 30, "dx": 43}, "vconcat": [{"title": "Cardiovascular hospitalization", "width": 856, "height": 321, "layer": [
  {"data": {"values": [{}]}, "mark": {"type": "rect", "fill": "white"}, "encoding": {"x": {"datum": 14, "type": "quantitative", "title": "Time (days)"}, "x2": {"datum": 2530}, "y": {"datum": 0.007, "type": "quantitative", "title": "Cum Survival"}, "y2": {"datum": 0.43}}},
  {"data": {"name": "km"}, "transform": [{"filter": "datum.p == 'd2'"}], "mark": {"type": "line"}, "encoding": {"x": {"field": "t", "type": "quantitative", "scale": {"domain": [0, 4888], "nice": false}, "axis": {"title": "Time (days)", "values": [0,365,730,1095,1460,1825,2190,2555,2920,3285,3650,4015,4380,4745], "format": "d"}}, "y": {"field": "s", "type": "quantitative", "scale": {"domain": [0, 1.05], "nice": false}, "axis": {"title": "Cum Survival", "values": [0,0.2,0.4,0.6,0.8,1], "format": ".1f"}}, "color": {"field": "g", "type": "nominal", "sort": ["blue","red","green"], "scale": {"domain": ["blue","red","green"], "range": ["#5b98dc","#c8143c","#2a8232"]}, "legend": null}}},
  {"data": {"values": [{}]}, "mark": {"type": "text", "fontSize": 66}, "encoding": {"x": {"datum": 194, "type": "quantitative", "title": "Time (days)"}, "y": {"datum": 0.15, "type": "quantitative", "title": "Cum Survival"}, "text": {"value": "P=1,7x10"}}},
  {"data": {"values": [{}]}, "mark": {"type": "text", "fontSize": 44}, "encoding": {"x": {"datum": 1797, "type": "quantitative", "title": "Time (days)"}, "y": {"datum": 0.228, "type": "quantitative", "title": "Cum Survival"}, "text": {"value": "-17"}}}
 ]}]}
], "spacing": 75}
]
}
